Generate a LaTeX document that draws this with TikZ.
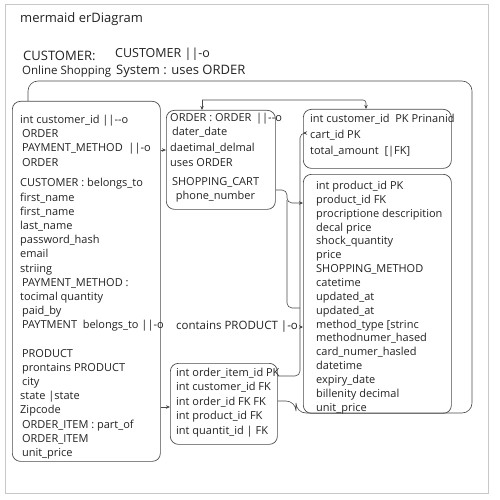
\documentclass[tikz,border=0pt]{standalone}
\usepackage{fontspec}
\setmainfont{Open Sans}
\usetikzlibrary{arrows.meta}
\definecolor{inkgray}{HTML}{222222}
\definecolor{linegray}{HTML}{4A4A4A}
\definecolor{framegray}{HTML}{C8C8C8}
\tikzset{
  entity/.style={draw=linegray, line width=0.7pt, rounded corners=8pt, anchor=north west, inner sep=0pt},
  rows/.style={anchor=north west, align=left, inner sep=0pt, text=inkgray, font=\fontsize{11}{14.2}\selectfont},
  label/.style={anchor=west, inner sep=0pt, text=inkgray},
  link/.style={draw=linegray, line width=0.6pt, rounded corners=5pt},
  arr/.style={-{Stealth[length=4pt,width=3.5pt]}}
}
\begin{document}
\begin{tikzpicture}[x=1pt, y=-1pt]
\useasboundingbox (0,0) rectangle (500,500);
\draw[framegray, line width=1pt] (5,5) rectangle (488,493);

\node[label, font=\fontsize{13}{15}\selectfont] (title) at (20,19) {mermaid erDiagram};
\node[label, font=\fontsize{13}{15}\selectfont] (custhead) at (23,56) {CUSTOMER:};
\node[label, font=\fontsize{11.5}{14}\selectfont] (shop) at (22,72) {Online Shopping};
\node[label, font=\fontsize{12.5}{14}\selectfont] (relhead) at (115,54) {CUSTOMER ||-o};
\node[label, font=\fontsize{13}{15}\selectfont] (system) at (116,71) {System : uses ORDER};

\node[entity, minimum width=148pt, minimum height=360pt] (customer) at (12,101) {};
\node[entity, minimum width=109pt, minimum height=99pt] (order) at (166,110) {};
\node[entity, minimum width=148pt, minimum height=59pt] (cart) at (303,109) {};
\node[entity, minimum width=148pt, minimum height=239pt] (product) at (303,174) {};
\node[entity, minimum width=107pt, minimum height=81pt] (orderitem) at (170,363) {};

\node[rows] (customerrows) at (20,115) {int customer\_id ||-{}-o\\
\,ORDER\\
\,PAYMENT\_METHOD\ \ ||-o\\
\,ORDER\\[6.5pt]
CUSTOMER : belongs\_to\\
first\_name\\
first\_name\\
last\_name\\
password\_hash\\
email\\
striing\\
\,PAYMENT\_METHOD :\\
tocimal quantity\\
\,paid\_by\\
\,PAYTMENT\ \ belongs\_to ||-o\\[14pt]
\,PRODUCT\\
\,prontains PRODUCT\\
\,city\\
state |state\\
Zipcode\\
\,ORDER\_ITEM : part\_of\\
\,ORDER\_ITEM\\
\,unit\_price};

\node[rows] (orderrows) at (170,113) {ORDER : ORDER \,||-{}-o\\
\,dater\_date\\[2pt]
daetimal\_delmal\\
uses ORDER\\[5.5pt]
\,SHOPPING\_CART\\[-1pt]
\ \ phone\_number};

\node[rows] (cartrows) at (310,114) {int customer\_id\ \ PK Prinanid\\[2pt]
cart\_id PK\\[2pt]
total\_amount\ \ [|FK]};

\node[rows, font=\fontsize{11}{13.85}\selectfont] (productrows) at (316,181) {int product\_id PK\\
product\_id FK\\
procriptione descripition\\
decal price\\
shock\_quantity\\
price\\
SHOPPING\_METHOD\\
catetime\\
updated\_at\\
updated\_at\\
method\_type [strinc\\
methodnumer\_hased\\
card\_numer\_hasled\\
datetime\\
expiry\_date\\
billenity decimal\\
unit\_price};

\node[rows, font=\fontsize{11}{14.4}\selectfont] (itemrows) at (176,368) {int order\_item\_id PK\\
int customer\_id FK\\
int order\_id FK FK\\
int product\_id FK\\
int quantit\_id | FK};

\node[label, font=\fontsize{11.5}{14}\selectfont] (contains) at (176,327) {contains PRODUCT |-o};

\draw[link, rounded corners=10pt] ([xshift=16pt]customer.north west) -- (28,81) -- (472,81) -- (472,413) -- (296,413) -- (296,401) -- (orderitem.east |- 0,401);
\draw[link, rounded corners=3pt, arr] (202,100) -- (366,100) -- (366,0 |- cart.north);
\draw[link, arr] (202,100) -- (202,0 |- order.north);
\draw[link, arr] (customer.east |- 0,150) -- (order.west |- 0,150);
\draw[link, arr] (order.east |- 0,190) -- (287,190) -- (287,203) -- (product.west |- 0,203);
\draw[link] (287,200) -- (287,308) -- (300,308);
\draw[link, arr] (orderitem.east |- 0,376) -- (300,376) -- (300,133) -- (cart.west |- 0,133);
\draw[link, arr] (contains.east) ++(3,0) -- (product.west |- contains.east);
\draw[link, arr] (customer.east |- 0,407) -- (orderitem.west |- 0,407);
\end{tikzpicture}
\end{document}
